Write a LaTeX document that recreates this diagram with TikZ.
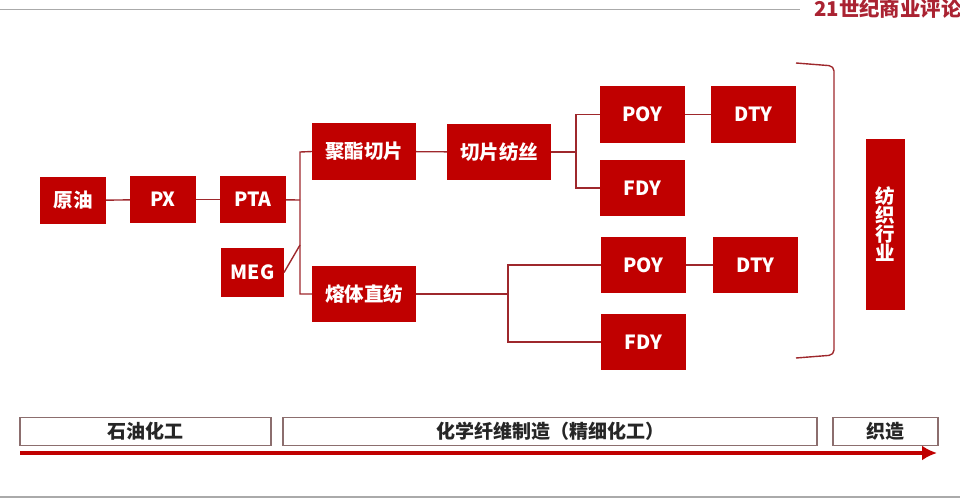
\documentclass[tikz,border=0pt]{standalone}
\usepackage{fontspec}
\setmainfont{Noto Sans CJK SC}
\usetikzlibrary{positioning,arrows.meta}
\definecolor{boxred}{RGB}{192,0,0}
\definecolor{linered}{RGB}{158,40,44}
\definecolor{framegray}{RGB}{140,110,110}
\definecolor{rulegray}{RGB}{170,170,170}
\definecolor{logored}{RGB}{170,35,50}
\tikzset{
      redbox/.style={
        fill=boxred,text=white,inner sep=0pt,outer sep=0pt,font=\bfseries\fontsize{19.5}{19}\selectfont,
        minimum width=#1
      },
      redbox/.default=85pt,
      stagebox/.style={
        draw=framegray,line width=1.1pt,fill=white,inner sep=0pt,outer sep=0pt,
        minimum height=28pt,font=\bfseries\fontsize{19}{20}\selectfont,text=black!85
      },
      link/.style={draw=linered,line width=1.4pt}
    }

\begin{document}
\begin{tikzpicture}[x=1pt,y=-1pt]
\useasboundingbox (0,0) rectangle (960,498);
% rules and logo
\coordinate (topl) at (0,9.5);
\coordinate (topr) at (800,9.5);
\coordinate (botl) at (0,497);
\coordinate (botr) at (960,497);
\draw[rulegray,line width=1.4pt] (topl) -- (topr);
\draw[rulegray,line width=2pt] (botl) -- (botr);
\node[anchor=west,inner sep=0pt,text=logored,font=\bfseries\fontsize{20.4}{22}\selectfont] (logo) at (814,9) {21世纪商业评论};
% process boxes
\node[redbox=66pt,minimum height=47pt] (crude) at (73,200.5) {原油};
\node[redbox=66pt,minimum height=47pt] (px) at (163,199.5) {PX};
\node[redbox=66pt,minimum height=47pt] (pta) at (253,199.5) {PTA};
\node[redbox=63pt,minimum height=49pt] (meg) at (252.5,272.5) {MEG};
\node[redbox=104pt,minimum height=57pt] (chip) at (364,151.5) {聚酯切片};
\node[redbox=104pt,minimum height=56pt] (melt) at (364,294) {熔体直纺};
\node[redbox=104pt,minimum height=56pt] (spin) at (499,152) {切片纺丝};
\node[redbox,minimum height=57pt] (poya) at (642.5,114.5) {POY};
\node[redbox,minimum height=57pt] (dtya) at (753.5,114.5) {DTY};
\node[redbox,minimum height=56pt] (fdya) at (642.5,188) {FDY};
\node[redbox,minimum height=56pt] (poyb) at (643.5,265) {POY};
\node[redbox,minimum height=56pt] (dtyb) at (755.5,265) {DTY};
\node[redbox,minimum height=56pt] (fdyb) at (643.5,342) {FDY};
\node[redbox=39pt,minimum height=171pt,align=center] (textile) at (885.5,224.5) {纺\\织\\行\\业};
% junctions
\coordinate (trunk) at (300,200);
\coordinate (chipj) at (300,152);
\coordinate (meltj) at (300,294);
\coordinate (megj) at (300,245);
\coordinate (spinj) at (576,152);
\coordinate (poyaj) at (576,114.5);
\coordinate (fdyaj) at (576,188);
\coordinate (meltk) at (508,294);
\coordinate (poybj) at (508,265);
\coordinate (fdybj) at (508,342);
% connectors
\foreach \a/\b in {crude/px,px/pta,pta/trunk,chip/spin,spin/spinj,poya/dtya,poyb/dtyb,melt/meltk}
  \draw[link] (\a) -- (\b);
\draw[link] (meg.east) -- (megj);
\draw[link] (chip.west) -- (chipj) -- (meltj) -- (melt.west);
\draw[link] (poya.west) -- (poyaj) -- (fdyaj) -- (fdya.west);
\draw[link] (poyb.west) -- (poybj) -- (fdybj) -- (fdyb.west);
% bracket
\coordinate (bra) at (796,63);
\coordinate (brb) at (834,66);
\coordinate (brc) at (834,355);
\coordinate (brd) at (796,358);
\draw[link,rounded corners=5pt] (bra) -- (brb) -- (brc) -- (brd);
% stages
\node[stagebox,minimum width=251pt] (oil) at (145.5,431.5) {石油化工};
\node[stagebox,minimum width=534pt] (fiber) at (550,431.5) {化学纤维制造（精细化工）};
\node[stagebox,minimum width=105pt] (weave) at (885.5,431.5) {织造};
\coordinate (arra) at (20,453);
\coordinate (arrb) at (937,453);
\draw[boxred,line width=4.5pt,-{Latex[length=15pt,width=15pt]}] (arra) -- (arrb);
\end{tikzpicture}
\end{document}
